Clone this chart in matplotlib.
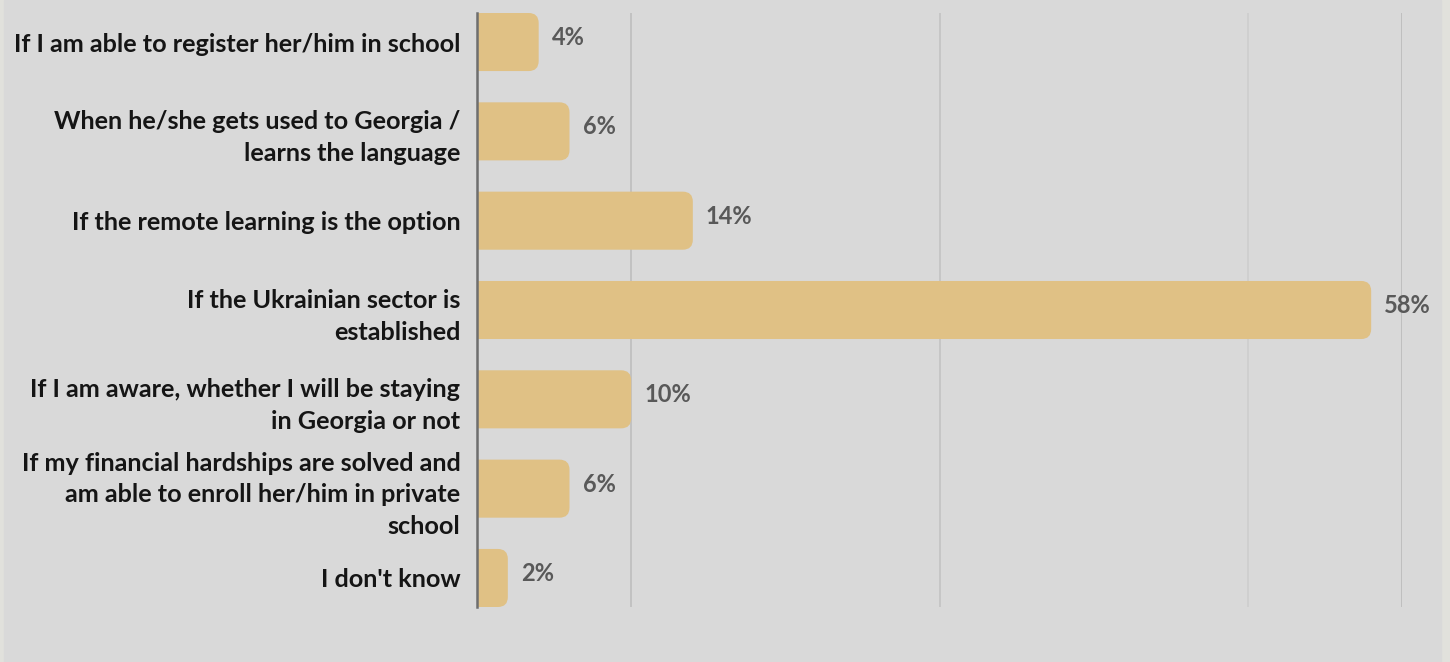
import matplotlib.pyplot as plt
from matplotlib.patches import FancyBboxPatch, Rectangle

# answers, top to bottom
labels = [
    "If I am able to register her/him in school",
    "When he/she gets used to Georgia /\nlearns the language",
    "If the remote learning is the option",
    "If the Ukrainian sector is\nestablished",
    "If I am aware, whether I will be staying\nin Georgia or not",
    "If my financial hardships are solved and\nam able to enroll her/him in private\nschool",
    "I don't know",
]
values = [4, 6, 14, 58, 10, 6, 2]

bar_color = "#e0c185"
bg = "#d9d9d9"
font = ["Lato", "DejaVu Sans"]

W, H = 14.5, 6.62
fig = plt.figure(figsize=(W, H), dpi=100, facecolor="#e1e1dc")
# panel background
fig.patches.append(Rectangle((4 / 1450, 0), (1441 - 4) / 1450, 1,
                             transform=fig.transFigure, color=bg, zorder=-5))

left, right = 477 / 1450, 1402 / 1450
bottom, top = 1 - 607 / 662, 1 - 13 / 662
ax = fig.add_axes([left, bottom, right - left, top - bottom])
ax.set_zorder(2)
ax.patch.set_alpha(0)

n = len(values)
h = 0.65
ax.set_xlim(0, 60)
ax.set_ylim(n - 1 + h / 2, -h / 2)

# aspect between data units so the rounded corners stay circular
px_x = (right - left) * W * 100 / 60
px_y = (top - bottom) * H * 100 / (n - 1 + h)
aspect = px_x / px_y
r = 10 / px_x

for i, v in enumerate(values):
    box = FancyBboxPatch((-2, i - h / 2), v + 2, h,
                         boxstyle="round,pad=0,rounding_size=%f" % r,
                         mutation_aspect=aspect, fc=bar_color, ec="none",
                         zorder=2)
    ax.add_patch(box)
    ax.text(v + 0.85, i - 0.05, "%d%%" % v, va="center", ha="left",
            fontsize=17, fontweight="bold", color="#595959",
            family=font, zorder=4, clip_on=False)

for g, c in [(10, "#c0c0c0"), (30, "#c4c4c4"), (50, "#cfcfcf"), (60, "#bdbdbd")]:
    ax.axvline(g, color=c, lw=1.3, zorder=1)

ax.set_yticks(range(n))
ax.set_yticklabels(labels, fontsize=18.2, fontweight="bold", color="#151515",
                   family=font, linespacing=1.45)
ax.tick_params(axis="y", length=0, pad=12)
ax.set_xticks([])

for s in ["top", "right", "bottom"]:
    ax.spines[s].set_visible(False)
ax.spines["left"].set_color("#6e6e6e")
ax.spines["left"].set_linewidth(1.8)
ax.spines["left"].set_zorder(5)

fig.savefig("out.png", dpi=100, facecolor=fig.get_facecolor())
